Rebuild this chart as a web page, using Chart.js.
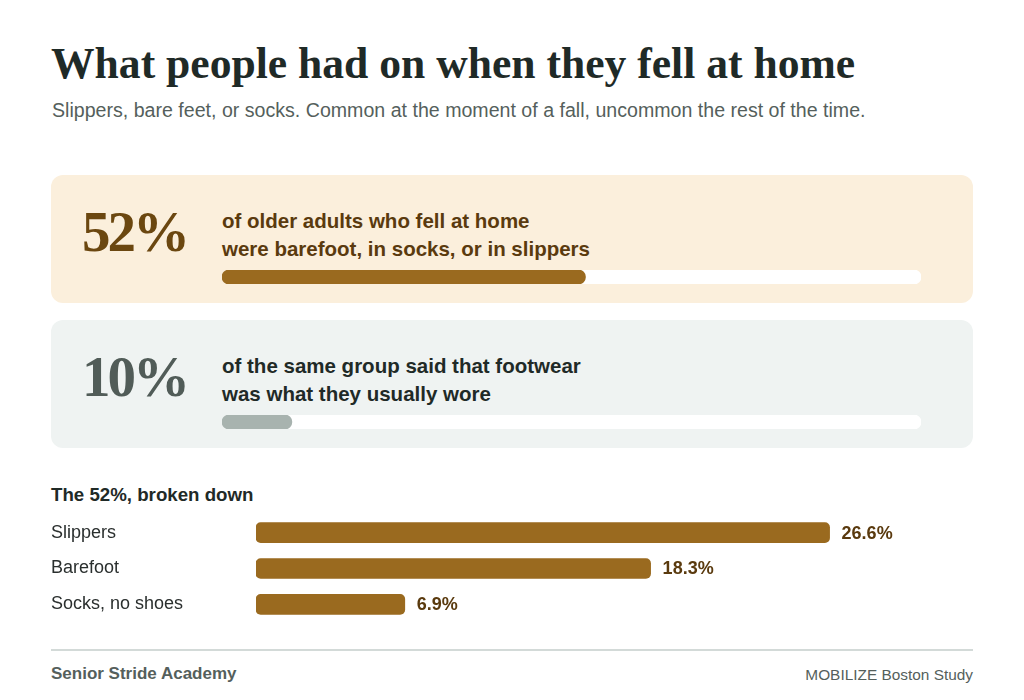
<!DOCTYPE html>
<html>
<head>
<meta charset="utf-8">
<script src="https://cdn.jsdelivr.net/npm/chart.js@4"></script>
<style>
  html,body{margin:0;padding:0;background:#fff;}
  body{width:1024px;height:700px;position:relative;overflow:hidden;font-family:"Liberation Sans",Arial,sans-serif;}
  .abs{position:absolute;white-space:nowrap;}
  #title{left:51px;top:39px;font-family:"Liberation Serif",serif;font-weight:bold;font-size:43.6px;line-height:48px;color:#1f2a27;}
  #sub{left:52px;top:98px;font-size:19.6px;line-height:24px;color:#555f5c;}
  .card{position:absolute;left:51px;width:922px;height:128px;border-radius:12px;}
  #card1{top:175px;background:#fbefdc;}
  #card2{top:320px;background:#eff3f2;}
  .big{position:absolute;left:31px;top:26px;font-family:"Liberation Serif",serif;font-weight:bold;font-size:57px;line-height:62px;letter-spacing:-3px;}
  .ctext{position:absolute;left:171px;top:32px;font-weight:bold;font-size:20.5px;line-height:28px;}
  .cbar{position:absolute;left:171px;top:95px;width:699px;height:14px;}
  #sectitle{left:51px;top:484px;font-weight:bold;font-size:18.7px;line-height:22px;color:#1f2a27;}
  #bdwrap{position:absolute;left:51px;top:504px;width:922px;height:129px;}
  #rule{position:absolute;left:51px;top:649px;width:922px;height:2px;background:#d3dad8;}
  #foot1{left:51px;top:663px;font-weight:bold;font-size:17px;line-height:22px;color:#555f5c;}
  #foot2{right:51px;top:664px;font-size:15.4px;line-height:22px;color:#555f5c;}
</style>
</head>
<body>
<div id="title" class="abs">What people had on when they fell at home</div>
<div id="sub" class="abs">Slippers, bare feet, or socks. Common at the moment of a fall, uncommon the rest of the time.</div>

<div id="card1" class="card">
  <div class="big" style="color:#6b4710;">52%</div>
  <div class="ctext" style="color:#5a3a0e;">of older adults who fell at home<br>were barefoot, in socks, or in slippers</div>
  <div class="cbar"><canvas id="bar1"></canvas></div>
</div>
<div id="card2" class="card">
  <div class="big" style="color:#515c58;">10%</div>
  <div class="ctext" style="color:#1f2a27;">of the same group said that footwear<br>was what they usually wore</div>
  <div class="cbar"><canvas id="bar2"></canvas></div>
</div>

<div id="sectitle" class="abs">The 52%, broken down</div>
<div id="bdwrap"><canvas id="bd"></canvas></div>
<div id="rule"></div>
<div id="foot1" class="abs">Senior Stride Academy</div>
<div id="foot2" class="abs">MOBILIZE Boston Study</div>

<script>
// Data
const headlineLabels = ["Barefoot, socks or slippers at fall", "Usually wore that footwear"];
const headlineValues = [52, 10];
const headlineMax = 100;

const breakdownCategories = ["Slippers", "Barefoot", "Socks, no shoes"];
const breakdownValues = [26.6, 18.3, 6.9];

const fillColors = ["#9a6a1f", "#a8b3af"];

Chart.defaults.animation = false;
Chart.defaults.font.family = '"Liberation Sans", Arial, sans-serif';

function progress(id, idx) {
  new Chart(document.getElementById(id), {
    type: 'bar',
    data: {
      labels: [headlineLabels[idx]],
      datasets: [
        { data: [headlineValues[idx]], backgroundColor: fillColors[idx], borderRadius: 7, borderSkipped: false, barThickness: 14, grouped: false, order: 0 },
        { data: [headlineMax], backgroundColor: '#ffffff', borderRadius: 7, borderSkipped: false, barThickness: 14, grouped: false, order: 1 }
      ]
    },
    options: {
      indexAxis: 'y',
      responsive: true,
      maintainAspectRatio: false,
      layout: { padding: 0 },
      plugins: { legend: { display: false }, tooltip: { enabled: false } },
      scales: {
        x: { display: false, min: 0, max: headlineMax },
        y: { display: false }
      }
    }
  });
}
progress('bar1', 0);
progress('bar2', 1);

const valueLabels = {
  id: 'valueLabels',
  afterDatasetsDraw(chart) {
    const ctx = chart.ctx;
    const meta = chart.getDatasetMeta(0);
    ctx.save();
    ctx.font = 'bold 18px "Liberation Sans", Arial, sans-serif';
    ctx.fillStyle = '#5a3a0e';
    ctx.textBaseline = 'middle';
    ctx.textAlign = 'left';
    meta.data.forEach((bar, i) => {
      ctx.fillText(breakdownValues[i].toFixed(1) + '%', bar.x + 12, bar.y + 1);
    });
    ctx.restore();
  }
};

new Chart(document.getElementById('bd'), {
  type: 'bar',
  data: {
    labels: breakdownCategories,
    datasets: [{ data: breakdownValues, backgroundColor: '#9a6a1f', borderRadius: 5, borderSkipped: false, barThickness: 20 }]
  },
  options: {
    indexAxis: 'y',
    responsive: true,
    maintainAspectRatio: false,
    layout: { padding: 0 },
    plugins: { legend: { display: false }, tooltip: { enabled: false } },
    scales: {
      x: { display: false, min: 0, max: Math.max(...breakdownValues) * 1.25 },
      y: {
        grid: { display: false, drawTicks: false },
        border: { display: false },
        ticks: { crossAlign: 'far', padding: 0, color: '#2a2f2e', font: { size: 18 } },
        afterFit(scale) { scale.width = 205; }
      }
    }
  },
  plugins: [valueLabels]
});
</script>
</body>
</html>
